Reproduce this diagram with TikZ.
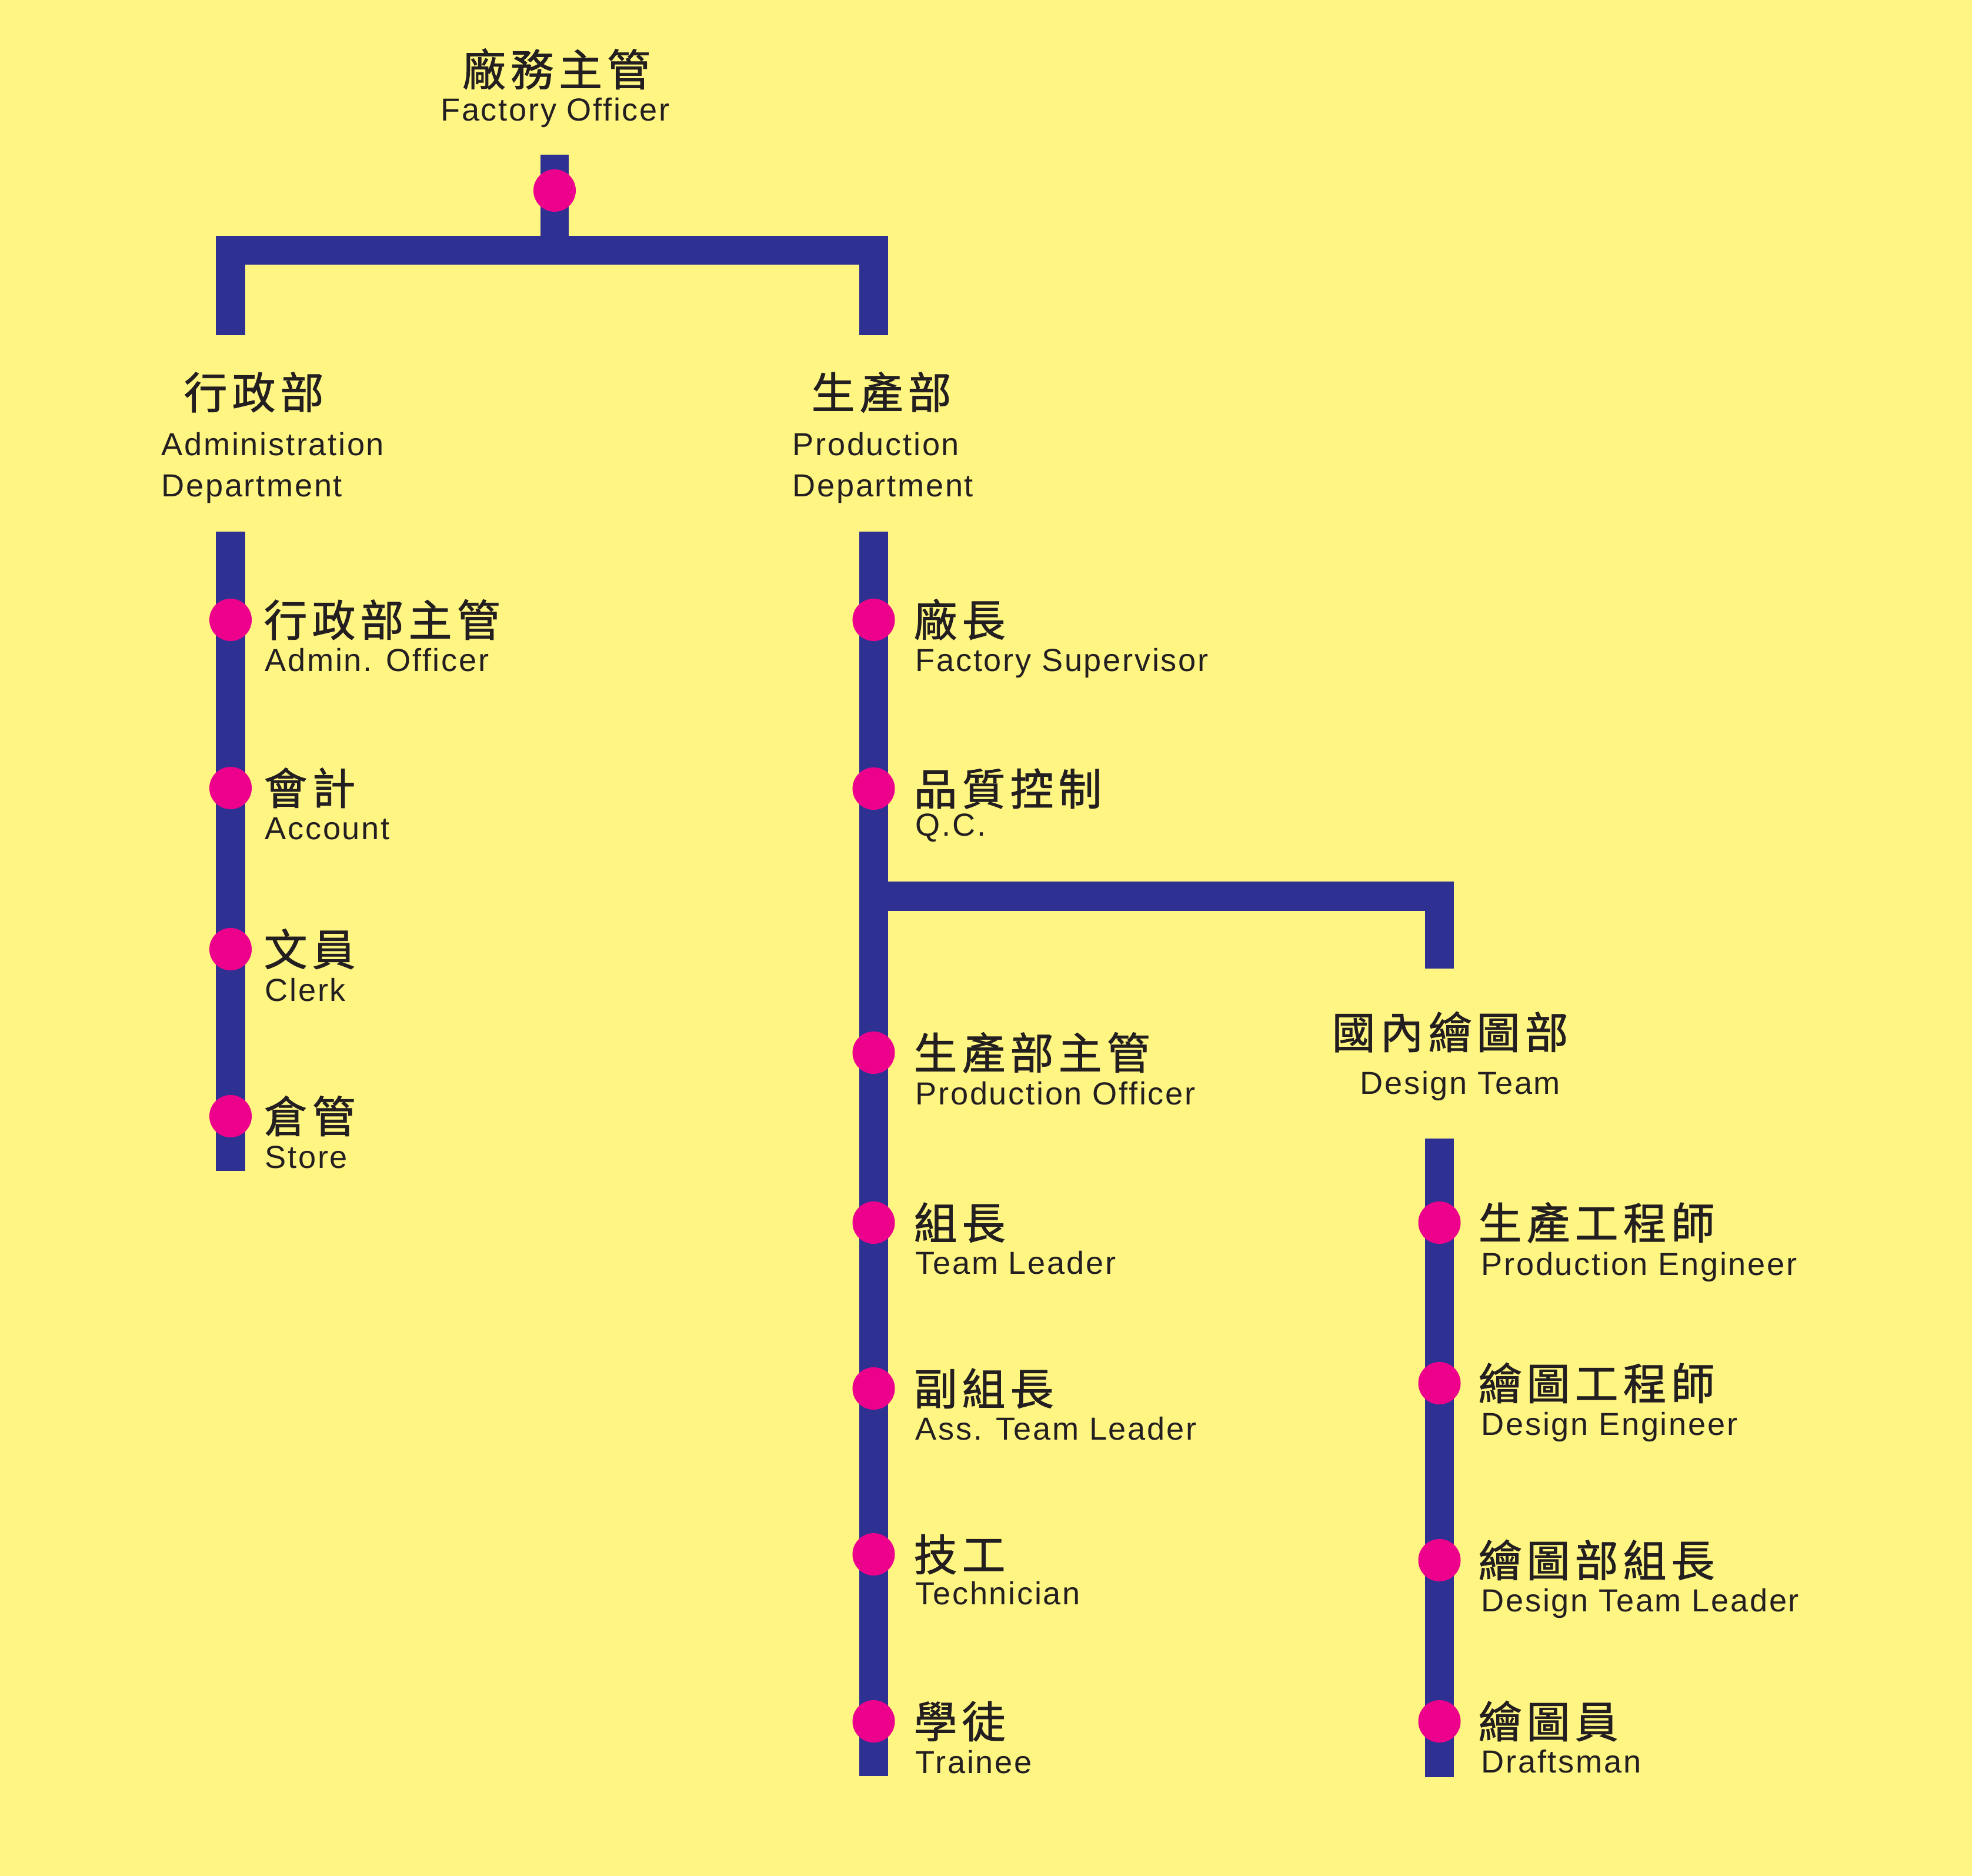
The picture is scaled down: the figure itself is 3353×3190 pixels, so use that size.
\documentclass[tikz,border=0pt]{standalone}
\usepackage{fontspec}
\usetikzlibrary{positioning, calc}
\setmainfont{Liberation Sans}[LetterSpace=5]
\newfontfamily\cjkfont{Noto Sans CJK TC}[LetterSpace=11, FakeBold=1.2]
\definecolor{paper}{HTML}{FFF583}
\definecolor{barblue}{HTML}{2E3192}
\definecolor{dotpink}{HTML}{EC008C}
\definecolor{ink}{HTML}{231F20}

\begin{document}
\begin{tikzpicture}[x=0.01cm, y=-0.01cm,
    bar/.style={draw=barblue, line width=14.2pt, line join=miter},
    dot/.style={circle, fill=dotpink, inner sep=0pt, minimum size=0.72cm},
    zh/.style={inner sep=0pt, text=ink, font=\cjkfont\fontsize{21pt}{25pt}\selectfont},
    en/.style={inner sep=0pt, text=ink, font=\fontsize{15.4pt}{18pt}\selectfont}]

    \fill[paper] (0,0) rectangle (3353,3190);

    % top of the tree
    \coordinate (topStub) at (943,263);
    \coordinate (topJoin) at (943,425.5);
    \coordinate (adminHook) at (392,570);
    \coordinate (adminCorner) at (392,425.5);
    \coordinate (prodCorner) at (1485.5,425.5);
    \coordinate (prodHook) at (1485.5,570);
    \draw[bar, line width=13.7pt] (topStub) -- (topJoin);
    \draw[bar] (adminHook) -- (adminCorner) -- (prodCorner) -- (prodHook);
    \node[dot] (boss) at (943,324) {};
    \node[zh, anchor=base] (bossZh) at (946,146) {廠務主管};
    \node[en, anchor=base] (bossEn) at (944,205) {Factory Officer};

    % headings
    \node[zh, anchor=base west] (adminZh) at (312,695) {行政部};
    \node[en, anchor=base west] (adminEn) at (274,774) {Administration};
    \node[en, anchor=base west] (adminEn2) at (274,844) {Department};
    \node[zh, anchor=base west] (prodZh) at (1379,695) {生產部};
    \node[en, anchor=base west] (prodEn) at (1347,774) {Production};
    \node[en, anchor=base west] (prodEn2) at (1347,844) {Department};
    \node[zh, anchor=base west] (designZh) at (2264,1783) {國內繪圖部};
    \node[en, anchor=base west] (designEn) at (2312,1860) {Design Team};

    % columns
    \coordinate (adminTop) at (392,904);
    \coordinate (adminEnd) at (392,1991);
    \coordinate (prodTop) at (1485.5,904);
    \coordinate (prodEnd) at (1485.5,3020);
    \coordinate (branch) at (1485.5,1524);
    \coordinate (branchCorner) at (2447.5,1524);
    \coordinate (branchHook) at (2447.5,1647);
    \coordinate (designTop) at (2447.5,1936);
    \coordinate (designEnd) at (2447.5,3022);
    \draw[bar] (adminTop) -- (adminEnd);
    \draw[bar] (prodTop) -- (prodEnd);
    \draw[bar] (branch) -- (branchCorner) -- (branchHook);
    \draw[bar] (designTop) -- (designEnd);

    % administration
    \node[dot] (a1) at (392,1054) {};
    \node[zh, anchor=base west] (a1zh) at (448,1082) {行政部主管};
    \node[en, anchor=base west] (a1en) at (450,1141) {Admin. Officer};
    \node[dot] (a2) at (392,1340) {};
    \node[zh, anchor=base west] (a2zh) at (448,1368) {會計};
    \node[en, anchor=base west] (a2en) at (450,1427) {Account};
    \node[dot] (a3) at (392,1614) {};
    \node[zh, anchor=base west] (a3zh) at (448,1642) {文員};
    \node[en, anchor=base west] (a3en) at (450,1702) {Clerk};
    \node[dot] (a4) at (392,1898) {};
    \node[zh, anchor=base west] (a4zh) at (448,1926) {倉管};
    \node[en, anchor=base west] (a4en) at (450,1986) {Store};

    % production
    \node[dot] (p1) at (1485.5,1054) {};
    \node[zh, anchor=base west] (p1zh) at (1553,1082) {廠長};
    \node[en, anchor=base west] (p1en) at (1556,1141) {Factory Supervisor};
    \node[dot] (p2) at (1485.5,1341) {};
    \node[zh, anchor=base west] (p2zh) at (1553,1369) {品質控制};
    \node[en, anchor=base west] (p2en) at (1556,1421) {Q.C.};
    \node[dot] (p3) at (1485.5,1790) {};
    \node[zh, anchor=base west] (p3zh) at (1553,1818) {生產部主管};
    \node[en, anchor=base west] (p3en) at (1556,1878) {Production Officer};
    \node[dot] (p4) at (1485.5,2079) {};
    \node[zh, anchor=base west] (p4zh) at (1553,2107) {組長};
    \node[en, anchor=base west] (p4en) at (1556,2166) {Team Leader};
    \node[dot] (p5) at (1485.5,2361) {};
    \node[zh, anchor=base west] (p5zh) at (1553,2389) {副組長};
    \node[en, anchor=base west] (p5en) at (1556,2448) {Ass. Team Leader};
    \node[dot] (p6) at (1485.5,2643) {};
    \node[zh, anchor=base west] (p6zh) at (1553,2671) {技工};
    \node[en, anchor=base west] (p6en) at (1556,2728) {Technician};
    \node[dot] (p7) at (1485.5,2927) {};
    \node[zh, anchor=base west] (p7zh) at (1553,2955) {學徒};
    \node[en, anchor=base west] (p7en) at (1556,3015) {Trainee};

    % design team
    \node[dot] (d1) at (2447.5,2079) {};
    \node[zh, anchor=base west] (d1zh) at (2513,2107) {生產工程師};
    \node[en, anchor=base west] (d1en) at (2518,2168) {Production Engineer};
    \node[dot] (d2) at (2447.5,2352) {};
    \node[zh, anchor=base west] (d2zh) at (2513,2380) {繪圖工程師};
    \node[en, anchor=base west] (d2en) at (2518,2440) {Design Engineer};
    \node[dot] (d3) at (2447.5,2653) {};
    \node[zh, anchor=base west] (d3zh) at (2513,2681) {繪圖部組長};
    \node[en, anchor=base west] (d3en) at (2518,2740) {Design Team Leader};
    \node[dot] (d4) at (2447.5,2927) {};
    \node[zh, anchor=base west] (d4zh) at (2513,2955) {繪圖員};
    \node[en, anchor=base west] (d4en) at (2518,3014) {Draftsman};
\end{tikzpicture}
\end{document}
